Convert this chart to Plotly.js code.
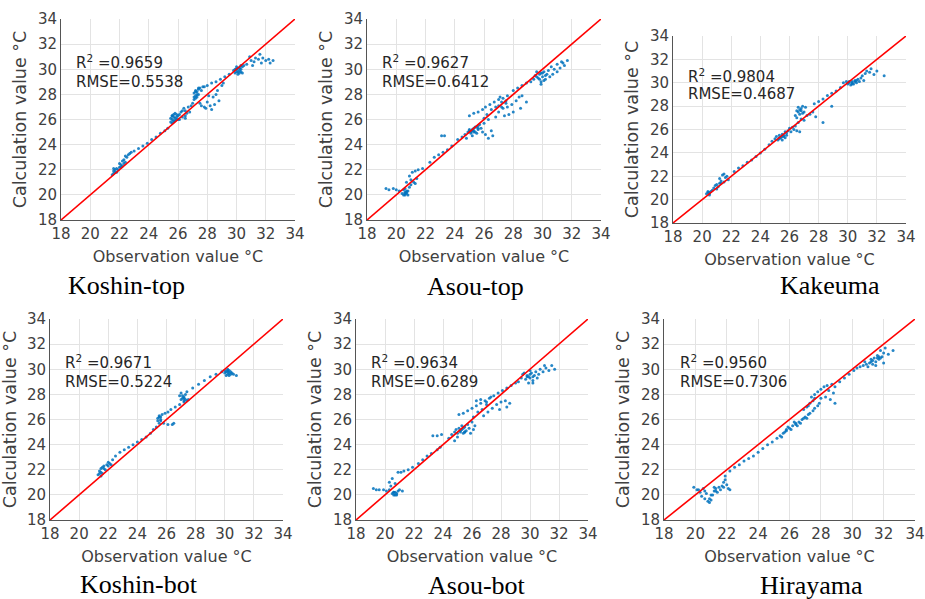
<!DOCTYPE html>
<html>
<head>
<meta charset="utf-8">
<script src="https://cdn.plot.ly/plotly-3.0.1.min.js"></script>
<style>html,body{margin:0;padding:0;background:#fff;}#chart{width:925px;height:599px;}</style>
</head>
<body>
<div id="chart"></div>
<script>
// ---- Station names (panel labels) ----
const stationNames = ["Koshin-top", "Asou-top", "Kakeuma", "Koshin-bot", "Asou-bot", "Hirayama"];
const r2Values = ["0.9659", "0.9627", "0.9804", "0.9671", "0.9634", "0.9560"];
const rmseValues = ["0.5538", "0.6412", "0.4687", "0.5224", "0.6289", "0.7306"];
const axisTicks = [18, 20, 22, 24, 26, 28, 30, 32, 34];
const oneToOneLine = [18, 34];

// ---- Koshin-top ----
const koshinTopObs = [21.5,21.6,21.7,21.6,21.8,21.9,22.0,22.1,22.2,22.3,22.4,22.5,22.6,22.3,22.2,21.7,22.0,22.4,22.7,22.8,
  23.0,23.3,23.6,23.9,24.2,24.5,24.8,25.1,25.3,
  25.5,25.6,25.7,25.5,25.6,25.8,25.9,26.0,25.7,25.8,26.1,26.2,26.3,26.5,26.4,26.7,26.9,27.0,25.6,25.7,25.9,
  26.1,26.3,26.5,26.6,26.8,26.5,
  27.1,27.2,27.1,27.3,27.4,27.5,27.6,27.2,27.3,27.7,27.8,28.0,28.3,28.6,28.9,29.2,29.5,27.4,27.2,
  27.5,27.8,28.0,28.2,28.4,28.5,28.6,28.8,28.3,27.9,28.7,29.0,29.1,27.6,28.1,
  29.8,29.9,30.0,30.1,30.2,30.3,30.4,30.0,30.2,30.4,30.5,30.1,29.9,30.3,30.0,30.2,
  30.7,31.0,31.2,31.3,31.5,31.7,31.8,32.0,32.2,32.5,31.6,31.1,32.3,30.9,
  25.6,25.8,25.7,25.9,26.0,27.2,27.3,27.1,27.4,30.0,30.1,30.3,30.2,21.6,21.8,22.1];
const koshinTopCalc = [21.6,21.9,22.0,21.7,22.1,22.0,22.2,22.4,22.3,22.8,22.6,23.0,23.2,22.5,22.7,21.8,22.5,23.1,23.3,23.4,
  23.5,23.7,23.9,24.1,24.4,24.6,24.9,25.1,25.3,
  25.8,26.0,26.2,26.1,25.7,25.9,26.2,26.3,26.4,26.5,26.4,26.6,26.7,26.7,26.9,27.0,27.1,27.3,26.3,25.9,26.0,
  26.0,26.2,26.3,26.5,26.6,26.1,
  27.6,27.9,28.1,28.2,28.4,28.5,28.3,27.7,27.8,28.6,28.6,28.7,28.9,29.0,29.2,29.4,29.6,28.0,28.3,
  27.3,27.0,27.4,27.1,27.8,27.2,28.0,27.5,26.8,26.9,28.3,28.7,28.9,27.1,27.9,
  29.9,30.0,29.8,30.1,29.7,30.0,30.2,30.2,29.9,29.7,30.3,29.6,29.7,29.8,30.0,30.1,
  30.4,30.7,30.6,30.9,30.8,30.5,30.9,30.7,30.8,30.7,31.2,30.3,30.5,31.0,
  26.3,26.1,25.8,26.4,26.0,28.2,28.0,27.8,28.5,30.0,29.8,30.3,30.1,22.1,21.8,22.2];

// ---- Asou-top ----
const asouTopObs = [19.3,19.5,19.8,20.0,20.2,20.4,20.5,20.6,20.7,20.8,20.6,20.9,21.0,20.5,20.8,21.2,21.3,21.0,20.9,21.1,21.3,21.5,21.8,20.7,21.4,20.6,20.7,
  22.3,22.6,22.9,23.2,23.5,23.8,23.1,23.3,
  24.2,24.5,24.7,24.9,25.0,25.1,25.2,25.3,25.4,25.5,25.6,25.7,25.2,24.8,25.5,25.8,26.0,25.9,26.1,26.3,26.5,26.6,25.1,25.3,25.6,
  25.0,25.3,25.6,25.9,26.1,26.4,26.7,27.0,27.3,27.6,26.2,26.5,26.8,27.0,27.2,26.0,26.3,27.1,27.5,
  26.8,27.0,27.3,27.6,27.9,28.2,28.4,28.6,28.9,28.5,28.0,27.7,27.4,
  28.0,28.3,28.6,28.9,
  29.2,29.4,29.5,29.7,29.8,29.9,30.0,30.1,30.2,30.3,30.4,30.5,29.6,29.9,30.6,30.8,31.0,31.2,31.3,31.5,31.7,31.0,30.7,31.4,29.9,30.1,
  25.0,25.3,25.4,25.6,25.2,29.6,29.8,30.0,30.2,20.6,20.7,27.2,27.5];
const asouTopCalc = [20.5,20.4,20.5,20.4,20.3,20.1,20.0,20.2,20.1,20.3,20.5,20.6,20.8,20.4,20.0,21.0,20.9,21.2,21.5,21.8,21.9,22.0,22.1,21.0,21.3,20.0,20.2,
  22.6,23.0,23.2,23.4,23.6,23.9,24.7,24.7,
  24.4,24.6,24.8,25.0,25.2,24.9,25.1,25.3,25.0,25.4,25.2,25.6,24.7,24.5,24.9,25.3,25.7,25.0,24.8,24.5,25.1,24.7,25.0,25.1,25.3,
  26.3,26.5,26.6,26.8,27.0,27.2,27.4,27.6,27.7,27.9,26.4,26.8,27.0,27.1,27.4,26.1,26.0,27.8,27.5,
  26.2,26.6,26.9,27.0,27.2,27.5,27.8,27.9,27.4,26.9,26.6,26.4,26.3,
  28.3,28.5,28.7,28.9,
  29.0,29.2,29.5,29.3,29.6,29.0,29.4,29.8,29.2,29.6,29.9,29.4,29.8,29.7,30.2,30.0,30.4,30.1,30.6,30.3,30.7,29.8,29.6,30.5,28.8,29.1,
  25.1,25.0,25.4,25.5,25.2,29.4,29.2,29.7,29.5,20.1,20.3,27.0,27.3];

// ---- Kakeuma ----
const kakeumaObs = [20.3,20.4,20.5,20.6,20.7,20.5,20.8,20.9,21.0,21.1,21.2,21.3,21.4,21.5,21.6,21.7,21.8,21.2,21.5,21.0,20.4,
  22.2,22.5,22.8,23.1,23.4,23.7,24.0,24.3,24.6,
  24.8,25.0,25.1,25.2,25.3,25.4,25.5,25.6,25.7,25.8,25.9,26.0,25.5,25.7,26.1,26.2,26.3,26.5,26.7,26.4,25.3,25.6,
  26.4,26.5,26.6,26.7,26.8,26.9,27.0,27.1,26.5,26.6,26.8,27.0,27.2,27.4,27.6,27.8,28.3,28.9,26.7,26.9,
  27.7,28.0,28.3,28.6,28.9,29.2,29.5,
  29.7,29.9,30.0,30.1,30.2,30.3,30.4,30.5,30.6,30.7,30.8,30.9,31.0,31.2,31.3,31.5,31.6,31.8,32.0,32.5,31.1,30.3,30.6,
  25.3,25.5,25.8,26.6,26.8,30.3,30.5,30.1,20.5,21.3];
const kakeumaCalc = [20.5,20.6,20.5,20.7,20.8,20.4,21.0,21.2,21.3,21.1,21.4,21.6,22.1,22.2,21.9,22.0,21.7,21.8,21.5,20.9,20.7,
  22.4,22.7,22.9,23.2,23.4,23.7,24.0,24.3,24.7,
  25.0,25.2,25.4,25.1,25.5,25.3,25.6,25.4,25.8,25.5,25.9,26.1,25.1,25.3,25.8,26.2,26.0,25.9,25.8,26.3,25.2,25.5,
  27.2,27.6,27.9,27.3,27.8,28.0,27.5,27.9,27.0,26.6,26.9,26.8,27.2,27.3,27.5,27.1,26.6,28.0,27.7,27.4,
  28.2,28.4,28.6,28.9,29.1,29.3,29.6,
  30.0,30.1,29.9,30.0,29.8,30.1,29.9,30.2,30.0,30.3,30.1,30.4,30.6,30.8,31.0,30.9,31.2,30.7,31.0,30.6,30.2,29.9,30.2,
  25.3,25.4,25.7,27.5,27.6,30.0,30.1,30.1,20.6,21.4];

// ---- Koshin-bot ----
const koshinBotObs = [21.3,21.4,21.5,21.6,21.7,21.8,21.5,21.9,22.0,22.1,22.2,21.6,22.3,22.5,22.8,23.1,23.4,23.7,24.0,24.3,24.6,24.9,25.1,25.3,22.0,21.4,
  25.5,25.4,25.4,25.5,25.7,25.9,26.1,25.6,25.8,26.1,26.4,26.5,25.5,25.6,
  26.3,26.6,26.9,27.2,
  27.0,26.9,27.0,27.2,27.3,27.4,27.1,27.3,27.2,27.5,
  27.4,27.8,28.2,28.6,29.0,29.4,29.8,
  30.0,30.1,30.2,30.3,30.1,30.4,30.5,30.2,30.6,30.8,30.3,30.0,30.2,
  21.5,21.7,27.2,27.1,30.2,30.3,30.4,25.6];
const koshinBotCalc = [21.6,21.9,22.1,21.7,22.3,22.0,21.5,22.4,22.6,22.5,22.4,22.2,22.8,23.1,23.4,23.6,23.8,24.0,24.2,24.4,24.6,24.9,25.2,25.4,22.3,21.7,
  25.7,25.9,26.1,26.3,26.4,26.5,26.6,26.0,25.7,25.6,25.6,25.7,26.2,25.9,
  26.8,27.0,27.2,27.4,
  27.6,27.9,28.1,27.8,27.6,27.5,27.7,28.0,27.5,27.6,
  28.2,28.5,28.8,29.1,29.4,29.6,29.8,
  29.9,29.8,29.6,29.7,29.5,29.8,29.7,30.0,29.6,29.5,29.5,29.7,29.9,
  21.8,22.1,27.7,27.9,29.8,29.9,29.6,26.2];

// ---- Asou-bot ----
const asouBotObs = [19.2,19.4,19.6,19.9,20.1,20.3,20.5,20.6,20.7,20.8,20.9,21.0,21.2,20.4,20.3,20.5,20.7,20.9,21.1,21.3,21.6,21.9,20.6,20.8,
  22.3,22.6,22.9,23.2,23.6,23.8,23.3,23.6,23.9,
  24.4,24.6,24.8,24.9,25.0,25.1,25.2,25.3,25.4,25.5,25.6,25.7,24.8,25.0,25.8,26.0,26.1,25.9,26.2,25.3,25.5,
  25.1,25.4,25.7,26.0,26.3,26.6,26.9,27.2,27.5,26.1,26.4,26.7,27.0,26.3,26.6,27.3,
  26.8,27.1,27.4,27.7,28.0,28.3,28.6,28.4,27.9,
  27.8,28.1,28.4,28.7,29.0,
  29.2,29.4,29.5,29.7,29.8,29.9,30.0,30.1,30.2,30.3,30.4,30.5,29.6,30.0,30.7,30.9,31.1,31.3,31.5,31.7,30.6,31.0,29.9,30.2,
  25.2,25.4,25.5,29.8,30.0,30.2,20.6,20.7,27.0];
const asouBotCalc = [20.5,20.4,20.4,20.4,20.3,20.4,20.1,20.0,20.2,20.1,20.3,20.4,20.3,20.7,21.0,21.3,20.9,21.8,21.8,21.9,22.0,22.2,20.2,20.0,
  22.5,22.8,23.1,23.3,23.6,23.8,24.7,24.7,24.8,
  24.5,24.8,25.0,25.2,24.9,25.3,25.0,25.2,24.9,25.4,25.1,25.6,24.3,24.6,25.3,25.8,25.2,24.9,25.5,25.5,25.0,
  26.4,26.5,26.7,26.9,27.1,27.3,27.5,27.7,27.9,26.2,26.6,26.8,27.2,27.5,27.6,27.8,
  26.3,26.6,26.9,27.2,27.4,27.5,27.3,27.0,26.8,
  28.1,28.3,28.5,28.7,28.9,
  29.0,29.3,29.6,29.2,29.5,28.9,29.3,29.7,29.1,29.5,29.8,29.3,29.7,29.9,30.0,29.8,30.1,29.9,30.3,30.0,29.6,30.3,29.4,28.9,
  25.1,25.3,25.0,29.4,29.6,29.4,20.2,20.0,27.4];

// ---- Hirayama ----
const hirayamaObs = [19.9,20.1,20.3,20.5,20.4,20.6,20.7,20.8,20.9,21.0,21.1,21.2,21.3,21.4,21.5,21.6,21.7,21.8,21.9,22.0,22.1,22.2,21.9,21.8,20.6,21.0,20.2,21.2,
  22.2,22.5,22.8,23.1,23.4,23.7,24.0,24.3,24.6,
  24.9,25.2,25.4,25.6,25.8,26.0,26.2,26.4,26.6,26.8,27.0,27.2,25.5,25.9,26.3,26.7,27.1,27.3,27.5,27.6,27.8,25.7,26.1,26.5,
  26.9,27.1,27.3,27.5,27.4,27.6,27.8,28.0,28.2,28.4,28.7,28.9,28.3,28.6,28.9,28.5,28.0,27.9,28.8,27.2,
  29.2,29.5,29.8,30.1,
  30.3,30.5,30.7,30.9,31.1,31.3,31.5,31.7,31.9,32.0,31.8,32.1,31.6,31.4,31.2,32.3,32.6,30.8,31.0,31.5,32.0,31.7,31.3,
  25.8,26.4,26.9,31.2,31.6,31.8,20.9,21.3,27.6];
const hirayamaCalc = [20.6,20.4,20.2,20.5,19.9,19.7,20.1,19.5,19.4,19.6,20.0,20.3,20.5,20.2,20.6,20.4,20.7,21.0,21.2,20.8,20.5,20.4,21.5,20.6,20.3,20.0,20.4,20.6,
  21.9,22.2,22.4,22.7,22.9,23.1,23.4,23.7,24.0,
  24.2,24.5,24.7,24.9,25.1,25.3,25.5,25.6,25.8,26.0,26.2,26.4,24.6,25.4,25.8,25.7,26.1,26.5,26.7,26.9,27.1,25.0,25.2,25.5,
  26.8,27.0,27.3,27.5,27.8,28.0,28.2,28.4,28.6,28.7,28.8,28.6,27.8,27.6,27.3,28.3,27.7,27.3,28.1,27.1,
  29.0,29.3,29.6,29.9,
  30.1,30.2,30.3,30.4,30.5,30.4,30.6,30.8,31.0,31.3,31.5,31.7,31.1,30.9,30.8,31.2,31.5,30.6,30.2,30.3,30.5,31.0,30.7,
  25.2,25.7,26.1,30.6,30.9,30.9,19.7,20.3,27.7];

const obsSeries = [koshinTopObs, asouTopObs, kakeumaObs, koshinBotObs, asouBotObs, hirayamaObs];
const calcSeries = [koshinTopCalc, asouTopCalc, kakeumaCalc, koshinBotCalc, asouBotCalc, hirayamaCalc];

// ---- Layout geometry (pixels) ----
const W = 925, H = 599;
const boxes = [
  {l: 61, r: 295, t: 19, b: 220},
  {l: 367, r: 601, t: 19, b: 220},
  {l: 673, r: 906, t: 36, b: 223},
  {l: 50, r: 283, t: 319, b: 520},
  {l: 356, r: 588, t: 319, b: 520},
  {l: 664, r: 915, t: 319, b: 520}
];
const labelPos = [
  {x: 126, y: 285}, {x: 476, y: 286}, {x: 830, y: 285},
  {x: 139, y: 584}, {x: 477, y: 585}, {x: 811, y: 585}
];

const data = [];
const layout = {
  width: W, height: H,
  margin: {l: 0, r: 0, t: 0, b: 0},
  paper_bgcolor: "#ffffff",
  plot_bgcolor: "#ffffff",
  showlegend: false,
  font: {family: "DejaVu Sans", size: 14, color: "#404040"},
  annotations: []
};

for (let i = 0; i < 6; i++) {
  const n = i === 0 ? "" : String(i + 1);
  const xa = "x" + n, ya = "y" + n;
  data.push({
    type: "scatter", mode: "markers", xaxis: xa, yaxis: ya,
    x: obsSeries[i], y: calcSeries[i],
    marker: {color: "#0072BD", size: 3, opacity: 0.85},
    hoverinfo: "x+y"
  });
  data.push({
    type: "scatter", mode: "lines", xaxis: xa, yaxis: ya,
    x: oneToOneLine, y: oneToOneLine,
    line: {color: "#ff0000", width: 1.6},
    hoverinfo: "skip"
  });
  const b = boxes[i];
  const common = {
    range: [18, 34], tickvals: axisTicks, ticktext: axisTicks.map(String),
    showgrid: true, gridcolor: "#e3e3e3", gridwidth: 1,
    zeroline: false, showline: true, linecolor: "#555555", linewidth: 1,
    mirror: false, ticks: "", fixedrange: true,
    tickfont: {family: "DejaVu Sans", size: 15, color: "#404040"}
  };
  layout["xaxis" + n] = Object.assign({}, common, {
    domain: [b.l / W, b.r / W], anchor: ya,
    title: {text: "Observation value °C", font: {family: "DejaVu Sans", size: 16, color: "#404040"}, standoff: 8}
  });
  layout["yaxis" + n] = Object.assign({}, common, {
    domain: [1 - b.b / H, 1 - b.t / H], anchor: xa,
    title: {text: "Calculation value °C", font: {family: "DejaVu Sans", size: 17.5, color: "#404040"}, standoff: 6}
  });
  layout.annotations.push({
    xref: xa, yref: ya, x: 18.9, y: 30.6, xanchor: "left", yanchor: "middle",
    text: "R<sup>2</sup> =" + r2Values[i], showarrow: false,
    font: {family: "DejaVu Sans", size: 15, color: "#262626"}
  });
  layout.annotations.push({
    xref: xa, yref: ya, x: 18.9, y: 29.0, xanchor: "left", yanchor: "middle",
    text: "RMSE=" + rmseValues[i], showarrow: false,
    font: {family: "DejaVu Sans", size: 15, color: "#262626"}
  });
  layout.annotations.push({
    xref: "paper", yref: "paper", x: labelPos[i].x / W, y: 1 - labelPos[i].y / H,
    xanchor: "center", yanchor: "middle",
    text: stationNames[i], showarrow: false,
    font: {family: "Liberation Serif", size: 26, color: "#000000"}
  });
}

Plotly.newPlot("chart", data, layout, {displayModeBar: false});
</script>
</body>
</html>
